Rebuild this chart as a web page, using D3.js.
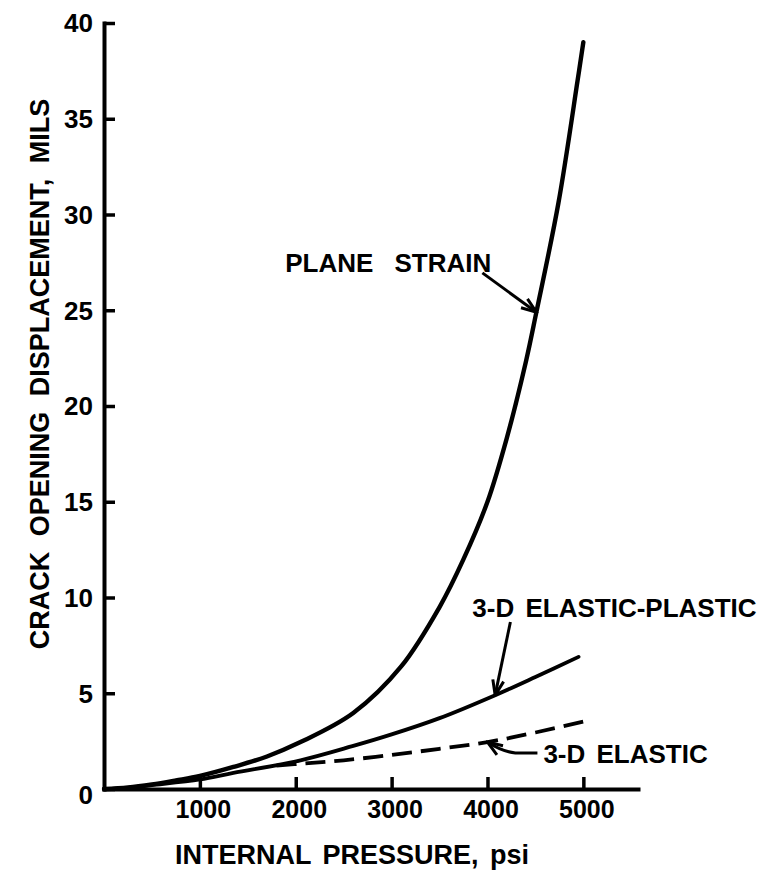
<!DOCTYPE html>
<html>
<head>
<meta charset="utf-8">
<script src="https://cdn.jsdelivr.net/npm/d3@7"></script>
<style>
  body { margin: 0; background: #fff; }
  svg { display: block; }
  text { font-family: "Liberation Sans", Arial, sans-serif; font-weight: bold; fill: #000; }
</style>
</head>
<body>
<svg id="svg" width="765" height="870"></svg>
<script>
// internal pressure (psi) vs crack opening displacement (mils)
var planePressure = [0, 250, 500, 750, 1000, 1350, 1700, 2050, 2600, 3100, 3500, 3750, 4000, 4200, 4400, 4510, 4740, 4940, 5000]
var planeStrain   = [0, 0.08, 0.24, 0.45, 0.68, 1.15, 1.7, 2.45, 3.97, 6.4, 9.5, 12.0, 15.0, 18.3, 22.3, 24.9, 30.6, 37.0, 39.0]

var epPressure = [0, 250, 500, 1000, 1350, 2050, 2600, 3000, 3500, 4080, 4500, 4950]
var elasticPlastic = [0, 0.06, 0.2, 0.5, 0.84, 1.5, 2.25, 2.85, 3.7, 4.9, 5.85, 6.9]

var elPressure = [1800, 2100, 2500, 3000, 3500, 4000, 4500, 5070]
var elastic    = [1.22, 1.34, 1.5, 1.78, 2.1, 2.45, 2.95, 3.6]

var xTicks = [1000, 2000, 3000, 4000, 5000]
var yTicks = [0, 5, 10, 15, 20, 25, 30, 35, 40]

var svg = d3.select("svg")

// scales (axis line runs a bit past 5000)
var x = d3.scaleLinear().domain([0, 5570]).range([104, 638])
var y = d3.scaleLinear().domain([0, 40]).range([789, 23])

// x axis, ticks pointing inward
var xAxis = svg.append("g")
  .attr("transform", "translate(0," + y(0) + ")")
  .call(d3.axisBottom(x).tickValues(xTicks).tickSize(-12).tickSizeOuter(0).tickPadding(11).tickFormat(d3.format("d")))
xAxis.select(".domain").attr("stroke-width", 4).attr("stroke-linecap", "square")
xAxis.selectAll(".tick line").attr("stroke-width", 3.5)
xAxis.selectAll(".tick text").attr("font-size", 25).attr("font-family", null).attr("dx", 3)

// y axis
var yAxis = svg.append("g")
  .attr("transform", "translate(" + x(0) + ",0)")
  .call(d3.axisLeft(y).tickValues(yTicks).tickSize(-11).tickSizeOuter(0).tickPadding(11))
yAxis.select(".domain").attr("stroke-width", 4).attr("stroke-linecap", "square")
yAxis.selectAll(".tick line").attr("stroke-width", 3.5)
yAxis.selectAll(".tick text").attr("font-size", 26).attr("font-family", null)
  .attr("dy", function(d) { return d === 0 ? "0.55em" : "0.34em" })

// axis titles
svg.append("text")
  .attr("x", 352).attr("y", 864)
  .attr("text-anchor", "middle")
  .attr("font-size", 27)
  .attr("word-spacing", 4)
  .text("INTERNAL PRESSURE, psi")

svg.append("text")
  .attr("transform", "translate(49,374) rotate(-90)")
  .attr("text-anchor", "middle")
  .attr("font-size", 27)
  .attr("word-spacing", 8)
  .text("CRACK OPENING DISPLACEMENT, MILS")

// curves
var line = d3.line()
  .x(function(d) { return x(d[0]) })
  .y(function(d) { return y(d[1]) })
  .curve(d3.curveCatmullRom.alpha(0.5))

svg.append("path")
  .datum(d3.zip(planePressure, planeStrain))
  .attr("d", line)
  .attr("fill", "none").attr("stroke", "#000").attr("stroke-width", 4.4)
  .attr("stroke-linecap", "round")

svg.append("path")
  .datum(d3.zip(epPressure, elasticPlastic))
  .attr("d", line)
  .attr("fill", "none").attr("stroke", "#000").attr("stroke-width", 3.8)
  .attr("stroke-linecap", "round")

svg.append("path")
  .datum(d3.zip(elPressure, elastic))
  .attr("d", line)
  .attr("fill", "none").attr("stroke", "#000").attr("stroke-width", 3.8)
  .attr("stroke-dasharray", "20,9")

// arrow head
svg.append("defs").append("marker")
  .attr("id", "arrow")
  .attr("markerUnits", "userSpaceOnUse")
  .attr("viewBox", "-16 -8 18 16")
  .attr("markerWidth", 18).attr("markerHeight", 16)
  .attr("refX", 0).attr("refY", 0)
  .attr("orient", "auto")
  .append("path")
  .attr("d", "M-15,-5.5L0,0L-15,5.5")
  .attr("fill", "none").attr("stroke", "#000").attr("stroke-width", 3)

// labels (data units)
var labels = [
  { text: "PLANE STRAIN", p: 1890, v: 27.0, ws: 14 },
  { text: "3-D ELASTIC-PLASTIC", p: 3842, v: 8.98, ws: 4 },
  { text: "3-D ELASTIC", p: 4583, v: 1.36, ws: 4 }
]
svg.selectAll(".lbl")
  .data(labels)
  .enter().append("text")
  .attr("class", "lbl")
  .attr("x", function(d) { return x(d.p) })
  .attr("y", function(d) { return y(d.v) })
  .attr("font-size", 26)
  .attr("word-spacing", function(d) { return d.ws })
  .text(function(d) { return d.text })

// leader arrows: start point and tip on the curve
var arrow = d3.line().x(function(d) { return x(d[0]) }).y(function(d) { return y(d[1]) })
var leaders = [
  [[3947, 26.95], [4510, 24.9]],
  [[4239, 8.72], [4080, 4.9]]
]
svg.selectAll(".leader")
  .data(leaders)
  .enter().append("path")
  .attr("class", "leader")
  .attr("d", arrow)
  .attr("fill", "none").attr("stroke", "#000").attr("stroke-width", 3)
  .attr("marker-end", "url(#arrow)")

// bent leader for 3-D ELASTIC
svg.append("path")
  .attr("d", "M" + x(4521) + "," + y(1.88) + "L" + x(4291) + "," + y(1.88) +
    "Q" + x(4150) + "," + y(1.95) + " " + x(4000) + "," + y(2.45))
  .attr("fill", "none").attr("stroke", "#000").attr("stroke-width", 3)
  .attr("marker-end", "url(#arrow)")
</script>
</body>
</html>
